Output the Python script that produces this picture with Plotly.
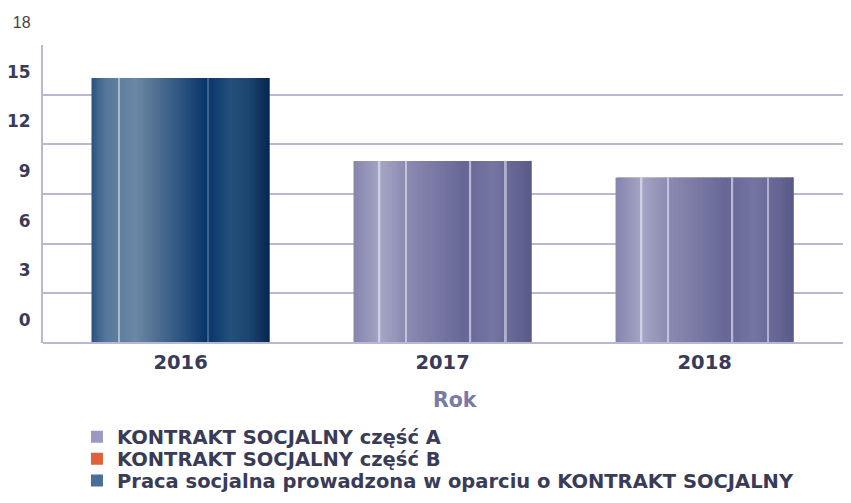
import plotly.graph_objects as go

# ---- data ----
series_names = ["KONTRAKT SOCJALNY część A",
                "KONTRAKT SOCJALNY część B",
                "Praca socjalna prowadzona w oparciu o KONTRAKT SOCJALNY"]
years_praca = ["2016"]
values_praca = [16]
years_a = ["2017", "2018"]
values_a = [11, 10]
years_b = []
values_b = []
categories = ["2016", "2017", "2018"]
y_tick_vals = [0, 3, 6, 9, 12, 15, 18]
y_tick_text = ["0", "3", "6", "9", "12", "15", "18"]
x_title = "Rok"

# ---- styles ----
BAR_W = 0.68
N = 70
grad_praca = [(0.0, "#2a5380"), (0.08, "#56789a"), (0.25, "#6b87a4"), (0.45, "#3a5f86"),
              (0.65, "#08346a"), (0.78, "#23507a"), (0.88, "#1d4670"), (1.0, "#05264f")]
grad_a = [(0.0, "#8585ad"), (0.15, "#a5a5c5"), (0.30, "#8a8ab2"), (0.55, "#6f6f9c"),
          (0.62, "#676795"), (0.78, "#7575a2"), (1.0, "#5a5a88")]
grad_b = [(0.0, "#e8a080"), (0.5, "#e0603a"), (1.0, "#b8401f")]
stripes_praca = [(0.15, "#a8bad0"), (0.65, "#3e6590")]
stripes_a = [(0.14, "#d0d0e4"), (0.29, "#c4c4dc"), (0.65, "#b8b8d6"), (0.85, "#b0b0d0")]

TXT = "#3a3b57"
BOLD_FONT = "DejaVu Sans, Verdana, sans-serif"


def hex2rgb(h):
    h = h.lstrip("#")
    return tuple(int(h[i:i + 2], 16) for i in (0, 2, 4))


def interp(stops, t):
    for (p0, c0), (p1, c1) in zip(stops[:-1], stops[1:]):
        if p0 <= t <= p1:
            f = 0 if p1 == p0 else (t - p0) / (p1 - p0)
            a, b = hex2rgb(c0), hex2rgb(c1)
            return "rgb(%d,%d,%d)" % tuple(round(a[k] + (b[k] - a[k]) * f) for k in range(3))
    return stops[-1][1]


fig = go.Figure()


def add_gradient_bars(xs, ys, stops, stripes):
    if not xs:
        return
    sw = BAR_W / N
    for i in range(N):
        t = (i + 0.5) / N
        w = sw * 1.8 if i < N - 1 else sw
        fig.add_trace(go.Bar(x=xs, y=ys, width=w, offset=-BAR_W / 2 + i * sw,
                             marker=dict(color=interp(stops, t), line=dict(width=0)),
                             showlegend=False, hoverinfo="skip"))
    for pos, col in stripes:
        fig.add_trace(go.Bar(x=xs, y=ys, width=0.007, offset=-BAR_W / 2 + pos * BAR_W,
                             marker=dict(color=col, line=dict(width=0)),
                             showlegend=False, hoverinfo="skip"))


add_gradient_bars(years_praca, values_praca, grad_praca, stripes_praca)
add_gradient_bars(years_a, values_a, grad_a, stripes_a)
add_gradient_bars(years_b, values_b, grad_b, [])

# legend entries (one legend per row so rows can be placed exactly)
legend_ids = ["legend", "legend2", "legend3"]
legend_cols = ["#9a9ac0", "#e0603a", "#4a6f96"]
for name, col, lid in zip(series_names, legend_cols, legend_ids):
    fig.add_trace(go.Bar(x=[None], y=[None], name=name, legend=lid,
                         marker=dict(color=col, line=dict(width=0))))

tick_text = ["<b>%s</b>" % t if t != "18" else
             "<span style='font-size:16px;font-family:Liberation Sans, Arial;color:#444444'>18</span>"
             for t in y_tick_text]

leg_common = dict(x=0.0826, xanchor="left", yanchor="middle",
                  xref="container", yref="container",
                  font=dict(size=19.5, color=TXT, family=BOLD_FONT, weight="bold"),
                  itemwidth=30, bgcolor="rgba(0,0,0,0)", borderwidth=0)
row_y = [0.119, 0.074, 0.029]

fig.update_layout(
    width=835, height=487,
    margin=dict(l=35, r=0, t=37, b=152, autoexpand=False),
    barmode="overlay",
    plot_bgcolor="white", paper_bgcolor="white",
    font=dict(family=BOLD_FONT, color=TXT),
    showlegend=True,
    legend=dict(y=row_y[0], **leg_common),
    legend2=dict(y=row_y[1], **leg_common),
    legend3=dict(y=row_y[2], **leg_common),
    xaxis=dict(type="category", categoryorder="array", categoryarray=categories,
               range=[-0.525, 2.528], showgrid=False, showline=False, zeroline=False,
               automargin=False,
               tickfont=dict(size=19.5, color=TXT, family=BOLD_FONT, weight="bold"),
               ticks="", ticklabelstandoff=5),
    yaxis=dict(range=[0, 18], tickvals=y_tick_vals, ticktext=tick_text,
               showgrid=True, gridcolor="#b8b8d2", gridwidth=2,
               showline=True, linecolor="#b8b8d2", linewidth=2,
               zeroline=False, automargin=False,
               tickfont=dict(size=17, color=TXT, family=BOLD_FONT),
               ticks="", ticklabelstandoff=7, ticklabelshift=-23),
    annotations=[dict(text="<b>%s</b>" % x_title, xref="paper", yref="paper",
                      x=0.515, y=-0.191, xanchor="center", yanchor="middle",
                      showarrow=False,
                      font=dict(size=20.5, color="#7a7aa6", family=BOLD_FONT))],
)
fig.add_shape(type="line", xref="paper", yref="paper", x0=0, x1=1, y0=0, y1=0,
              line=dict(color="#b8b8d2", width=2), layer="above")

fig.write_html("out.html")
